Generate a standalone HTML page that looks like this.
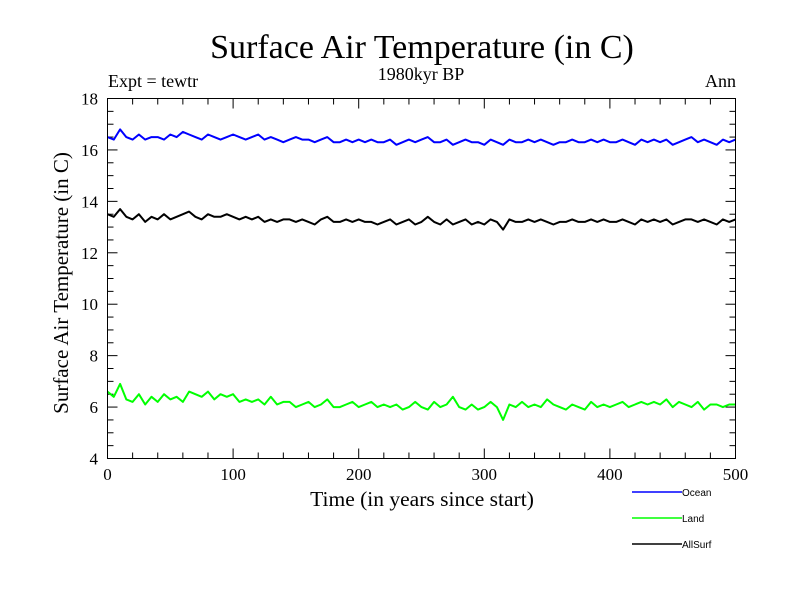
<!DOCTYPE html>
<html><head><meta charset="utf-8"><style>
body{margin:0;background:#fff}
svg text{font-family:"Liberation Serif",serif;fill:#000}
</style></head><body>
<svg id="chart" width="800" height="600" xmlns="http://www.w3.org/2000/svg">
<text x="422" y="58" font-size="34" text-anchor="middle">Surface Air Temperature (in C)</text>
<text x="421" y="80" font-size="18" text-anchor="middle">1980kyr BP</text>
<text x="108" y="87" font-size="18">Expt = tewtr</text>
<text x="736" y="87" font-size="18" text-anchor="end">Ann</text>
<text x="422" y="506" font-size="21.5" text-anchor="middle">Time (in years since start)</text>
<text transform="translate(68,283) rotate(-90)" font-size="21" text-anchor="middle">Surface Air Temperature (in C)</text>
<g id="ticks"></g>
<g id="series"></g>
<rect x="107.5" y="98.5" width="628" height="360" fill="none" stroke="#000"/>
<g id="legend"></g>
</svg>
<script>
const xTicks=[0,100,200,300,400,500];
const yTicks=[4,6,8,10,12,14,16,18];
const seriesNames=["Ocean","Land","AllSurf"];
const seriesColors=["#0000ff","#00ff00","#000000"];
const ocean=[16.5,16.4,16.8,16.5,16.4,16.6,16.4,16.5,16.5,16.4,16.6,16.5,16.7,16.6,16.5,16.4,16.6,16.5,16.4,16.5,16.6,16.5,16.4,16.5,16.6,16.4,16.5,16.4,16.3,16.4,16.5,16.4,16.4,16.3,16.4,16.5,16.3,16.3,16.4,16.3,16.4,16.3,16.4,16.3,16.3,16.4,16.2,16.3,16.4,16.3,16.4,16.5,16.3,16.3,16.4,16.2,16.3,16.4,16.3,16.3,16.2,16.4,16.3,16.2,16.4,16.3,16.3,16.4,16.3,16.4,16.3,16.2,16.3,16.3,16.4,16.3,16.3,16.4,16.3,16.4,16.3,16.3,16.4,16.3,16.2,16.4,16.3,16.4,16.3,16.4,16.2,16.3,16.4,16.5,16.3,16.4,16.3,16.2,16.4,16.3,16.4];
const land=[6.6,6.4,6.9,6.3,6.2,6.5,6.1,6.4,6.2,6.5,6.3,6.4,6.2,6.6,6.5,6.4,6.6,6.3,6.5,6.4,6.5,6.2,6.3,6.2,6.3,6.1,6.4,6.1,6.2,6.2,6.0,6.1,6.2,6.0,6.1,6.3,6.0,6.0,6.1,6.2,6.0,6.1,6.2,6.0,6.1,6.0,6.1,5.9,6.0,6.2,6.0,5.9,6.2,6.0,6.1,6.4,6.0,5.9,6.1,5.9,6.0,6.2,6.0,5.5,6.1,6.0,6.2,6.0,6.1,6.0,6.3,6.1,6.0,5.9,6.1,6.0,5.9,6.2,6.0,6.1,6.0,6.1,6.2,6.0,6.1,6.2,6.1,6.2,6.1,6.3,6.0,6.2,6.1,6.0,6.2,5.9,6.1,6.1,6.0,6.1,6.1];
const allSurf=[13.5,13.4,13.7,13.4,13.3,13.5,13.2,13.4,13.3,13.5,13.3,13.4,13.5,13.6,13.4,13.3,13.5,13.4,13.4,13.5,13.4,13.3,13.4,13.3,13.4,13.2,13.3,13.2,13.3,13.3,13.2,13.3,13.2,13.1,13.3,13.4,13.2,13.2,13.3,13.2,13.3,13.2,13.2,13.1,13.2,13.3,13.1,13.2,13.3,13.1,13.2,13.4,13.2,13.1,13.3,13.1,13.2,13.3,13.1,13.2,13.1,13.3,13.2,12.9,13.3,13.2,13.2,13.3,13.2,13.3,13.2,13.1,13.2,13.2,13.3,13.2,13.2,13.3,13.2,13.3,13.2,13.2,13.3,13.2,13.1,13.3,13.2,13.3,13.2,13.3,13.1,13.2,13.3,13.3,13.2,13.3,13.2,13.1,13.3,13.2,13.3];
const allData=[ocean,land,allSurf];
const X0=107.5,X1=735.5,Y0=458.5,Y1=98.5;
const xs=v=>X0+(v-0)/500*(X1-X0);
const ys=v=>Y0-(v-4)/14*(Y0-Y1);
const NS="http://www.w3.org/2000/svg";
function mk(tag,attrs,parent){const e=document.createElementNS(NS,tag);for(const k in attrs)e.setAttribute(k,attrs[k]);parent.appendChild(e);return e;}
const tg=document.getElementById('ticks');
for(let v=0;v<=500;v+=20){const x=xs(v),L=v%100===0?10:6;
 const t1=mk('line',{x1:x,x2:x,y1:Y0,y2:Y0-L,stroke:'#000'},tg);
 
 
 mk('line',{x1:x,x2:x,y1:Y1,y2:Y1+L,stroke:'#000'},tg);}
for(let v=4;v<=18;v+=0.5){const y=ys(v),L=(v%2===0)?10:6;
 const t2=mk('line',{x1:X0,x2:X0+L,y1:y,y2:y,stroke:'#000'},tg);
 
 
 mk('line',{x1:X1,x2:X1-L,y1:y,y2:y,stroke:'#000'},tg);}
xTicks.forEach(v=>{const t=mk('text',{x:xs(v),y:480,'font-size':17,'text-anchor':'middle'},tg);t.textContent=v;
 
 });
yTicks.forEach(v=>{const t=mk('text',{x:98,y:ys(v)+6,'font-size':17,'text-anchor':'end'},tg);t.textContent=v;
 
 });
const sg=document.getElementById('series');
allData.forEach((d,i)=>{const n=d.length;const pts=d.map((v,j)=>xs(j*500/(n-1)).toFixed(1)+','+ys(v).toFixed(1)).join(' ');
 const p=mk('polyline',{points:pts,fill:'none',stroke:seriesColors[i],'stroke-width':2,'stroke-linejoin':'round'},sg);
 
 });
const lg=document.getElementById('legend');
seriesNames.forEach((nm,i)=>{const y=492+i*26;
 const l=mk('line',{x1:632,x2:682,y1:y,y2:y,stroke:seriesColors[i],'stroke-width':1.5},lg);
 
 
 const t=mk('text',{x:682,y:y+4,'font-size':10,style:'font-family:"Liberation Sans",sans-serif'},lg);t.textContent=nm;
 
 });
</script>
</body></html>
